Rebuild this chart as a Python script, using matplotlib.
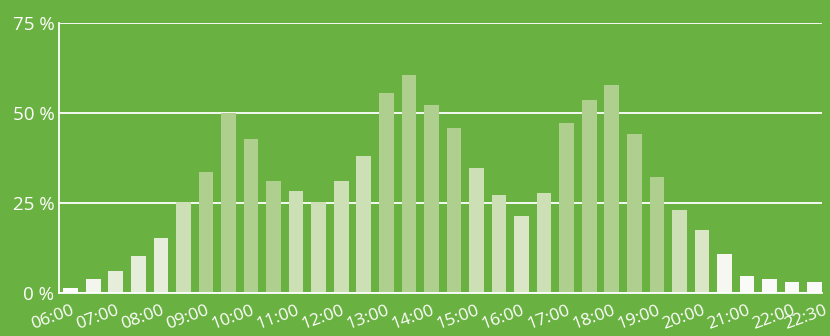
import matplotlib
matplotlib.use("Agg")
import matplotlib.pyplot as plt
import matplotlib.transforms as mtransforms

plt.rcParams['font.family'] = ['Open Sans', 'DejaVu Sans']

slots = ["06:00", "06:30", "07:00", "07:30", "08:00", "08:30", "09:00", "09:30",
         "10:00", "10:30", "11:00", "11:30", "12:00", "12:30", "13:00", "13:30",
         "14:00", "14:30", "15:00", "15:30", "16:00", "16:30", "17:00", "17:30",
         "18:00", "18:30", "19:00", "19:30", "20:00", "20:30", "21:00", "21:30",
         "22:00", "22:30"]
values = [1.3, 3.8, 6.0, 10.1, 15.1, 25.1, 33.5, 49.8, 42.6, 31.0, 28.2, 25.1,
          31.0, 37.9, 55.4, 60.4, 52.1, 45.7, 34.6, 27.1, 21.3, 27.6, 47.1, 53.5,
          57.6, 44.0, 32.1, 22.9, 17.4, 10.7, 4.6, 3.8, 2.9, 2.9]
shown_labels = ["06:00", "07:00", "08:00", "09:00", "10:00", "11:00", "12:00",
                "13:00", "14:00", "15:00", "16:00", "17:00", "18:00", "19:00",
                "20:00", "21:00", "22:00", "22:30"]
y_ticks = [0, 25, 50, 75]
y_labels = ["0 %", "25 %", "50 %", "75 %"]

W = "#ffffff"; A = "#f3f6ee"; B = "#e6eedb"; C = "#cddfb5"; D = "#aecf8e"
E = "#dbe6c7"; F = "#f5f7f0"; G = "#fafbf8"
bar_colors = [W, A, B, B, B, C, D, D, D, D, C, C, C, C, D, D, D, D, C, C, E, C,
              D, D, D, D, D, C, E, F, G, G, G, G]

bg = "#69b140"
fig = plt.figure(figsize=(8.3, 3.36), dpi=100, facecolor=bg)
ax = fig.add_axes([58.5 / 830, 43.5 / 336, (822 - 58.5) / 830, (292.5 - 22.5) / 336])
ax.set_facecolor(bg)

x = list(range(len(slots)))
ax.bar(x, values, width=0.65, color=bar_colors, zorder=3, linewidth=0)

ax.set_ylim(0, 75)
ax.set_xlim(-0.54, len(slots) - 1 + 0.325)
ax.set_yticks(y_ticks)
ax.set_yticklabels(y_labels)
ax.yaxis.grid(True, color="white", linewidth=1.3, zorder=1)
ax.set_axisbelow(True)

tick_pos = [slots.index(s) for s in shown_labels]
ax.set_xticks(tick_pos)
ax.set_xticklabels(shown_labels, rotation=20, ha="right", rotation_mode="anchor")

ax.tick_params(axis="y", length=0, colors="white", labelsize=13.5, pad=3)
ax.tick_params(axis="x", length=0, colors="white", labelsize=12.5, pad=7)

# last label nudged right so it does not collide with its neighbour
last = ax.get_xticklabels()[-1]
last.set_transform(last.get_transform() + mtransforms.ScaledTranslation(9 / 100, 0, fig.dpi_scale_trans))

for s in ["top", "right"]:
    ax.spines[s].set_visible(False)
for s in ["left", "bottom"]:
    ax.spines[s].set_color("white")
    ax.spines[s].set_linewidth(1.3)
ax.spines["bottom"].set_zorder(4)

fig.savefig("out.png", dpi=100, facecolor=bg)
